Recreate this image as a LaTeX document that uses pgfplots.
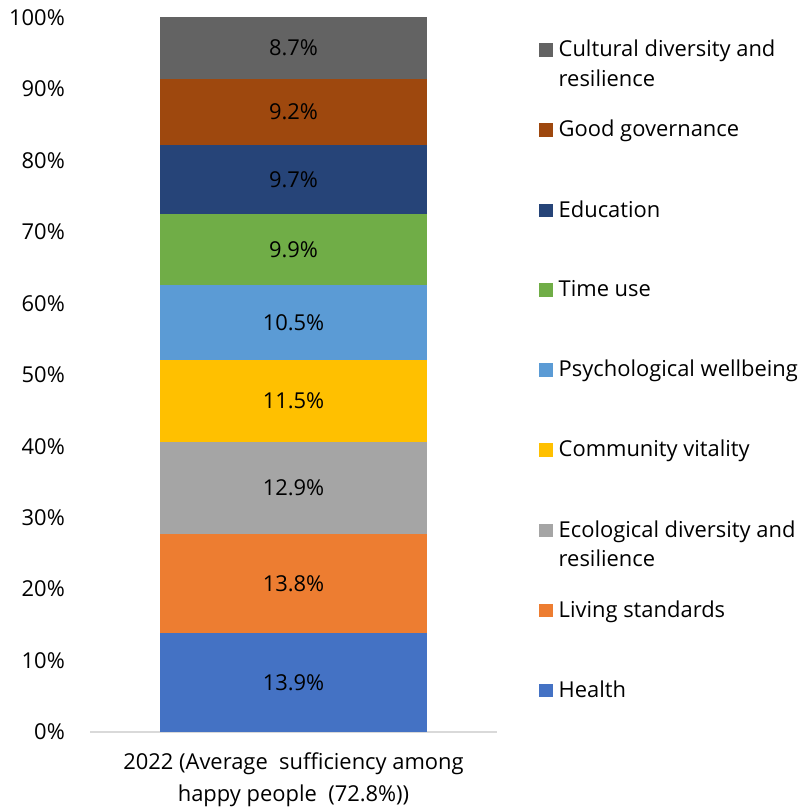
\documentclass[border=0pt]{standalone}
\usepackage{pgfplots}
\pgfplotsset{compat=1.18}
\usepackage{fontspec}
\setmainfont{Open Sans}
\definecolor{cHealth}{HTML}{4472C4}
\definecolor{cLiving}{HTML}{ED7D31}
\definecolor{cEco}{HTML}{A5A5A5}
\definecolor{cComm}{HTML}{FFC000}
\definecolor{cPsy}{HTML}{5B9BD5}
\definecolor{cTime}{HTML}{70AD47}
\definecolor{cEdu}{HTML}{264478}
\definecolor{cGov}{HTML}{9E480E}
\definecolor{cCult}{HTML}{636363}
\newcommand{\lentry}[1]{\parbox[t][70bp][t]{250bp}{#1}}
\newcommand{\chfont}{\fontsize{22}{30}\selectfont}
\begin{document}
\begin{tikzpicture}[font=\chfont]
\path[use as bounding box] (0,0) rectangle (809bp,809bp);
\begin{axis}[
  at={(90bp,77bp)}, anchor=south west,
  scale only axis, width=407bp, height=715bp,
  ybar stacked, bar width=266bp,
  xmin=-1, xmax=1, ymin=0, ymax=100.1,
  xtick={0},
  xticklabels={{2022 (Average\ \ sufficiency among\\happy people\ \ (72.8\%))}},
  xticklabel style={align=center, inner sep=0pt, yshift=-21bp, font=\fontsize{22}{32}\selectfont},
  ytick={0,10,...,100},
  yticklabel={\pgfmathprintnumber{\tick}\%},
  /pgf/number format/assume math mode=true,
  yticklabel style={inner sep=0pt, xshift=-25bp},
  axis x line*=bottom, axis y line*=left,
  x axis line style={draw=black!15, line width=1.2bp, -},
  y axis line style={draw=none},
  major tick length=0pt,
  point meta=explicit,
  nodes near coords={\pgfmathprintnumber[fixed,precision=1,fixed zerofill]{\pgfplotspointmeta}\%},
  every node near coord/.style={anchor=center, text=black, font=\chfont},
  reverse legend,
  legend cell align=left,
  legend style={at={(1.1032,0.968)}, anchor=north west, draw=none, fill=none, inner sep=0pt,
    nodes={inner sep=0pt, anchor=base west}, row sep=62bp, column sep=6bp,
    font=\chfont},
  legend image code/.code={\fill[#1] (0bp,0bp) rectangle (13.5bp,13.5bp);},
]
\addplot[fill=cHealth, draw=none] coordinates {(0,13.9) [13.9]};
\addlegendentry{\lentry{Health}}
\addplot[fill=cLiving, draw=none] coordinates {(0,13.8) [13.8]};
\addlegendentry{\lentry{Living standards}}
\addplot[fill=cEco, draw=none] coordinates {(0,12.9) [12.9]};
\addlegendentry{\lentry{Ecological diversity and\\resilience}}
\addplot[fill=cComm, draw=none] coordinates {(0,11.5) [11.5]};
\addlegendentry{\lentry{Community vitality}}
\addplot[fill=cPsy, draw=none] coordinates {(0,10.5) [10.5]};
\addlegendentry{\lentry{Psychological wellbeing}}
\addplot[fill=cTime, draw=none] coordinates {(0,9.9) [9.9]};
\addlegendentry{\lentry{Time use}}
\addplot[fill=cEdu, draw=none] coordinates {(0,9.7) [9.7]};
\addlegendentry{\lentry{Education}}
\addplot[fill=cGov, draw=none] coordinates {(0,9.2) [9.2]};
\addlegendentry{\lentry{Good governance}}
\addplot[fill=cCult, draw=none] coordinates {(0,8.7) [8.7]};
\addlegendentry{\lentry{Cultural diversity and\\resilience}}
\end{axis}
\end{tikzpicture}
\end{document}
